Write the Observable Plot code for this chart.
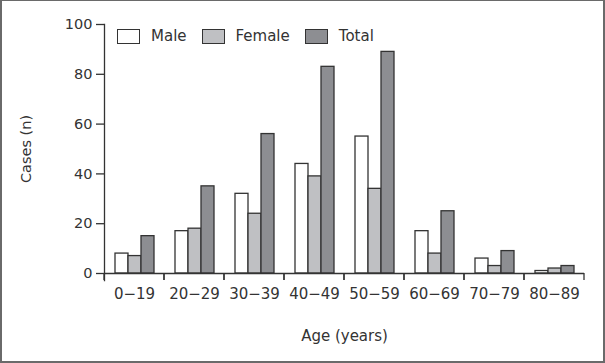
<!DOCTYPE html>
<html>
<head>
<meta charset="utf-8">
<script src="https://cdn.jsdelivr.net/npm/d3@7"></script>
<script src="https://cdn.jsdelivr.net/npm/@observablehq/plot@0.6"></script>
<style>
  html, body { margin: 0; padding: 0; background: #fff; }
  #wrap { position: relative; width: 605px; height: 363px; font-family: "DejaVu Sans", sans-serif; color: #333; }
  #border { position: absolute; left: 0; top: 0; width: 605px; height: 363px; box-sizing: border-box;
            border: 2px solid #6a6a6a; border-top-width: 1px; pointer-events: none; }
  #legend { position: absolute; left: 117px; top: 27px; display: flex; align-items: center; font-size: 15px; color: #333; }
  #legend .item { display: flex; align-items: center; margin-right: 15px; }
  #legend .sw { width: 21px; height: 13px; border: 1.4px solid #333; margin-right: 11px; }
  svg { display: block; }
</style>
</head>
<body>
<div id="wrap"><div id="border"></div><div id="legend"></div></div>
<script>
const ages = ["0\u221219", "20\u221229", "30\u221239", "40\u221249", "50\u221259", "60\u221269", "70\u221279", "80\u221289"];
const series = ["Male", "Female", "Total"];
const male = [8, 17, 32, 44, 55, 17, 6, 1];
const female = [7, 18, 24, 39, 34, 8, 3, 2];
const total = [15, 35, 56, 83, 89, 25, 9, 3];
const yTicks = [0, 20, 40, 60, 80, 100];
const colors = ["#ffffff", "#bfc0c3", "#8d8e92"];

const valuesBySeries = {Male: male, Female: female, Total: total};
const rows = [];
ages.forEach((a, i) => series.forEach(s => rows.push({age: a, sex: s, value: valuesBySeries[s][i]})));

// drawn in every facet, in facet-local coordinates: the tick marks at the facet's two edges
const boundaryTicks = (index, scales, values, dims) => {
  const {fx, y} = scales;
  const y0 = y(0);
  const g = d3.create("svg:g").attr("stroke", "#333").attr("stroke-width", 1.3).attr("fill", "none");
  const left = dims.marginLeft;
  const right = left + fx.bandwidth();
  [left, right].forEach(b => g.append("line").attr("x1", b).attr("x2", b).attr("y1", y0).attr("y2", y0 + 7));
  return g.node();
};

const chart = Plot.plot({
  width: 605,
  height: 363,
  marginLeft: 104,
  marginRight: 21,
  marginTop: 24,
  marginBottom: 90,
  style: {fontFamily: "DejaVu Sans, sans-serif", fontSize: "14px", color: "#333", background: "transparent"},
  fx: {domain: ages, padding: 0},
  x: {domain: series, paddingInner: 0, paddingOuter: 0.77, axis: null},
  y: {domain: [0, 100]},
  color: {domain: series, range: colors},
  marks: [
    Plot.barY(rows, {fx: "age", x: "sex", y: "value", fill: "sex", stroke: "#333", strokeWidth: 1.3}),
    Plot.ruleY([0], {stroke: "#333", strokeWidth: 1.3}),
    Plot.frame({anchor: "left", facetAnchor: "left", stroke: "#333", strokeWidth: 1.3, insetBottom: -7}),
    boundaryTicks,
    Plot.axisY({ticks: yTicks, tickSize: 8, tickPadding: 4, label: "Cases (n)", labelAnchor: "center", labelArrow: "none", labelOffset: 84, fontSize: 14.5, strokeWidth: 1.3}),
    Plot.axisFx({anchor: "bottom", tickSize: 0, tickPadding: 15, label: "Age (years)", labelAnchor: "center", labelArrow: "none", labelOffset: 67, fontSize: 15})
  ]
});
const wrap = document.getElementById("wrap");
wrap.insertBefore(chart, wrap.firstChild);

const legend = document.getElementById("legend");
series.forEach((s, i) => {
  const item = document.createElement("div");
  item.className = "item";
  const sw = document.createElement("div");
  sw.className = "sw";
  sw.style.background = colors[i];
  const t = document.createElement("span");
  t.textContent = s;
  item.appendChild(sw);
  item.appendChild(t);
  legend.appendChild(item);
});
</script>
</body>
</html>
